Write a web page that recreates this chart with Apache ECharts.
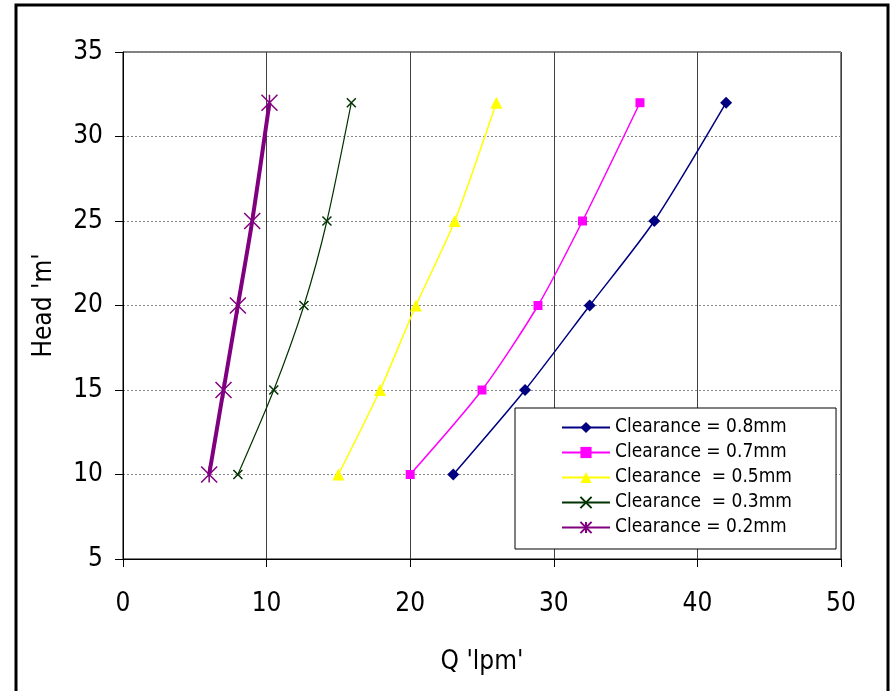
<!DOCTYPE html>
<html><head><meta charset="utf-8">
<script src="https://cdn.jsdelivr.net/npm/echarts@6/dist/echarts.min.js"></script>
<style>html,body{margin:0;padding:0;background:#fff}#c{width:890px;height:691px}</style>
</head><body><div id="c"></div>
<script>
const heads = [10, 15, 20, 25, 32];
const q08 = [23, 28, 32.5, 37, 42];
const q07 = [20, 25, 28.9, 32, 36];
const q05 = [15, 17.9, 20.4, 23.1, 26];
const q03 = [8, 10.5, 12.6, 14.2, 15.9];
const q02 = [6, 7, 8, 9, 10.2];
const names = ['Clearance = 0.8mm', 'Clearance = 0.7mm', 'Clearance  = 0.5mm', 'Clearance  = 0.3mm', 'Clearance = 0.2mm'];
const xTicks = [0, 10, 20, 30, 40, 50];
const yTicks = [5, 10, 15, 20, 25, 30, 35];

const AXFONT = '"Liberation Sans Narrow", "DejaVu Sans Condensed", sans-serif';
const LGFONT = '"DejaVu Sans Condensed", "DejaVu Sans", sans-serif';
const xPath = 'path://M0,0L10,10M10,0L0,10';
const starPath = 'path://M0,0L10,10M10,0L0,10M5,0L5,10';
function mk(name, xs, color, symbol, size, width, extra) {
  return Object.assign({
    name, type: 'line', smooth: 0.25,
    data: xs.map((x, i) => [x, heads[i]]),
    symbol, symbolSize: size,
    lineStyle: { color, width },
    itemStyle: { color, borderColor: color, borderWidth: 0 },
    emphasis: { disabled: true }
  }, extra || {});
}
const series = [
  mk(names[0], q08, '#000080', 'diamond', 12, 1.5),
  mk(names[1], q07, '#FF00FF', 'rect', 9, 1.5),
  mk(names[2], q05, '#FFFF00', 'triangle', 12, 1.5),
  mk(names[3], q03, '#003300', xPath, 9, 1.2, { itemStyle: { color: 'none', borderColor: '#003300', borderWidth: 1.5 } }),
  mk(names[4], q02, '#800080', starPath, 16, 4, { itemStyle: { color: 'none', borderColor: '#800080', borderWidth: 1.5 } })
];

const chart = echarts.init(document.getElementById('c'), null, { renderer: 'canvas' });
chart.setOption({
  animation: false,
  textStyle: { fontFamily: AXFONT },
  grid: { left: 123, right: 49, top: 52, bottom: 132, show: true, borderColor: '#000', borderWidth: 1, backgroundColor: 'transparent' },
  xAxis: {
    type: 'value', min: xTicks[0], max: xTicks[xTicks.length - 1], interval: 10,
    name: "Q 'lpm'", nameLocation: 'middle', nameGap: 90,
    nameTextStyle: { fontSize: 26, color: '#000', fontFamily: AXFONT },
    axisLine: { lineStyle: { color: '#000', width: 1 } },
    axisTick: { show: true, length: 8, lineStyle: { color: '#000' } },
    axisLabel: { fontSize: 26, color: '#000', margin: 32, fontFamily: AXFONT },
    splitLine: { show: true, lineStyle: { color: '#404040', width: 1, type: 'solid' } }
  },
  yAxis: {
    type: 'value', min: yTicks[0], max: yTicks[yTicks.length - 1], interval: 5,
    name: "Head 'm'", nameLocation: 'middle', nameGap: 66, nameRotate: 90,
    nameTextStyle: { fontSize: 26, color: '#000', fontFamily: AXFONT },
    axisLine: { show: true, lineStyle: { color: '#000', width: 1 } },
    axisTick: { show: true, length: 8, lineStyle: { color: '#000' } },
    axisLabel: { fontSize: 26, color: '#000', margin: 20, fontFamily: AXFONT },
    splitLine: { show: true, lineStyle: { color: '#888', width: 1, type: [2, 2] } }
  },
  legend: {
    orient: 'vertical', left: 515, top: 408,
    backgroundColor: '#fff', borderColor: '#000', borderWidth: 1,
    padding: [10, 44, 12, 46],
    itemGap: 6, itemWidth: 48, itemHeight: 14,
    textStyle: { fontSize: 19, lineHeight: 19, color: '#000', fontFamily: LGFONT, padding: [0, 0, 0, 0] },
    data: names
  },
  graphic: [{
    type: 'rect', shape: { x: 16, y: 5, width: 872, height: 700 },
    style: { fill: 'none', stroke: '#000', lineWidth: 3 }, silent: true
  }],
  series
});
</script></body></html>
